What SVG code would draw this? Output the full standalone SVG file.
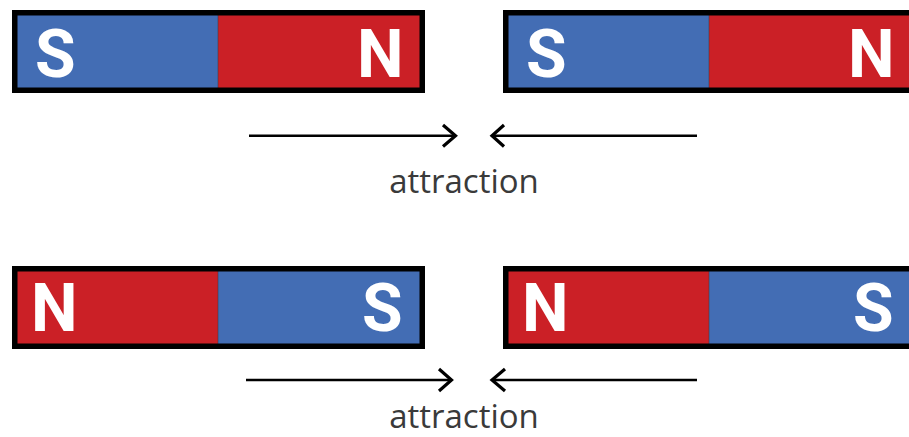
<svg xmlns="http://www.w3.org/2000/svg" width="909" height="437" viewBox="0 0 909 437">
<style>
.blue{fill:#436db4}
.red{fill:#cb2026}
.frame{fill:none;stroke:#000;stroke-width:5.5}
.div{stroke:#3a3a3a;stroke-width:1;opacity:0.5}
.pole{font-family:Roboto,"Liberation Sans",sans-serif;font-weight:bold;font-size:66px;fill:#fff}
.lbl{font-family:"Open Sans","Noto Sans",sans-serif;font-size:33px;fill:#3a3a3a;text-anchor:middle}
.arr{fill:none;stroke:#000;stroke-width:2.6}
.head{fill:none;stroke:#000;stroke-width:3.2;stroke-linejoin:miter}
</style>
<g id="magnet-top-left">
<rect class="blue" x="15" y="13" width="203" height="77"/>
<rect class="red" x="218" y="13" width="204" height="77"/>
<line class="div" x1="218" y1="13" x2="218" y2="90"/>
<rect class="frame" x="14.75" y="12.75" width="407.5" height="77.5"/>
<text class="pole" x="35" y="77">S</text>
<text class="pole" x="357" y="77">N</text>
</g>
<g id="magnet-top-right">
<rect class="blue" x="506" y="13" width="203" height="77"/>
<rect class="red" x="709" y="13" width="204" height="77"/>
<line class="div" x1="709" y1="13" x2="709" y2="90"/>
<rect class="frame" x="505.75" y="12.75" width="407.5" height="77.5"/>
<text class="pole" x="526" y="77">S</text>
<text class="pole" x="848" y="77">N</text>
</g>
<g id="magnet-bottom-left">
<rect class="red" x="15" y="269" width="203" height="77"/>
<rect class="blue" x="218" y="269" width="204" height="77"/>
<line class="div" x1="218" y1="269" x2="218" y2="346"/>
<rect class="frame" x="14.75" y="268.75" width="407.5" height="77.5"/>
<text class="pole" x="31" y="331">N</text>
<text class="pole" x="362" y="331">S</text>
</g>
<g id="magnet-bottom-right">
<rect class="red" x="506" y="269" width="203" height="77"/>
<rect class="blue" x="709" y="269" width="204" height="77"/>
<line class="div" x1="709" y1="269" x2="709" y2="346"/>
<rect class="frame" x="505.75" y="268.75" width="407.5" height="77.5"/>
<text class="pole" x="522" y="331">N</text>
<text class="pole" x="853" y="331">S</text>
</g>
<g id="connectors">
<line class="arr" x1="249" y1="135.7" x2="455" y2="135.7"/>
<polyline class="head" points="443,125 455.5,135.7 443,146.5"/>
<line class="arr" x1="697" y1="135.7" x2="493" y2="135.7"/>
<polyline class="head" points="504,125 492,135.7 504,146.5"/>
<line class="arr" x1="246" y1="380" x2="451" y2="380"/>
<polyline class="head" points="439,369 451.5,380 439,391"/>
<line class="arr" x1="697" y1="380" x2="493" y2="380"/>
<polyline class="head" points="505,369 492,380 505,391"/>
</g>
<g id="labels">
<text class="lbl" x="464" y="193">attraction</text>
<text class="lbl" x="464" y="428">attraction</text>
</g>
</svg>
